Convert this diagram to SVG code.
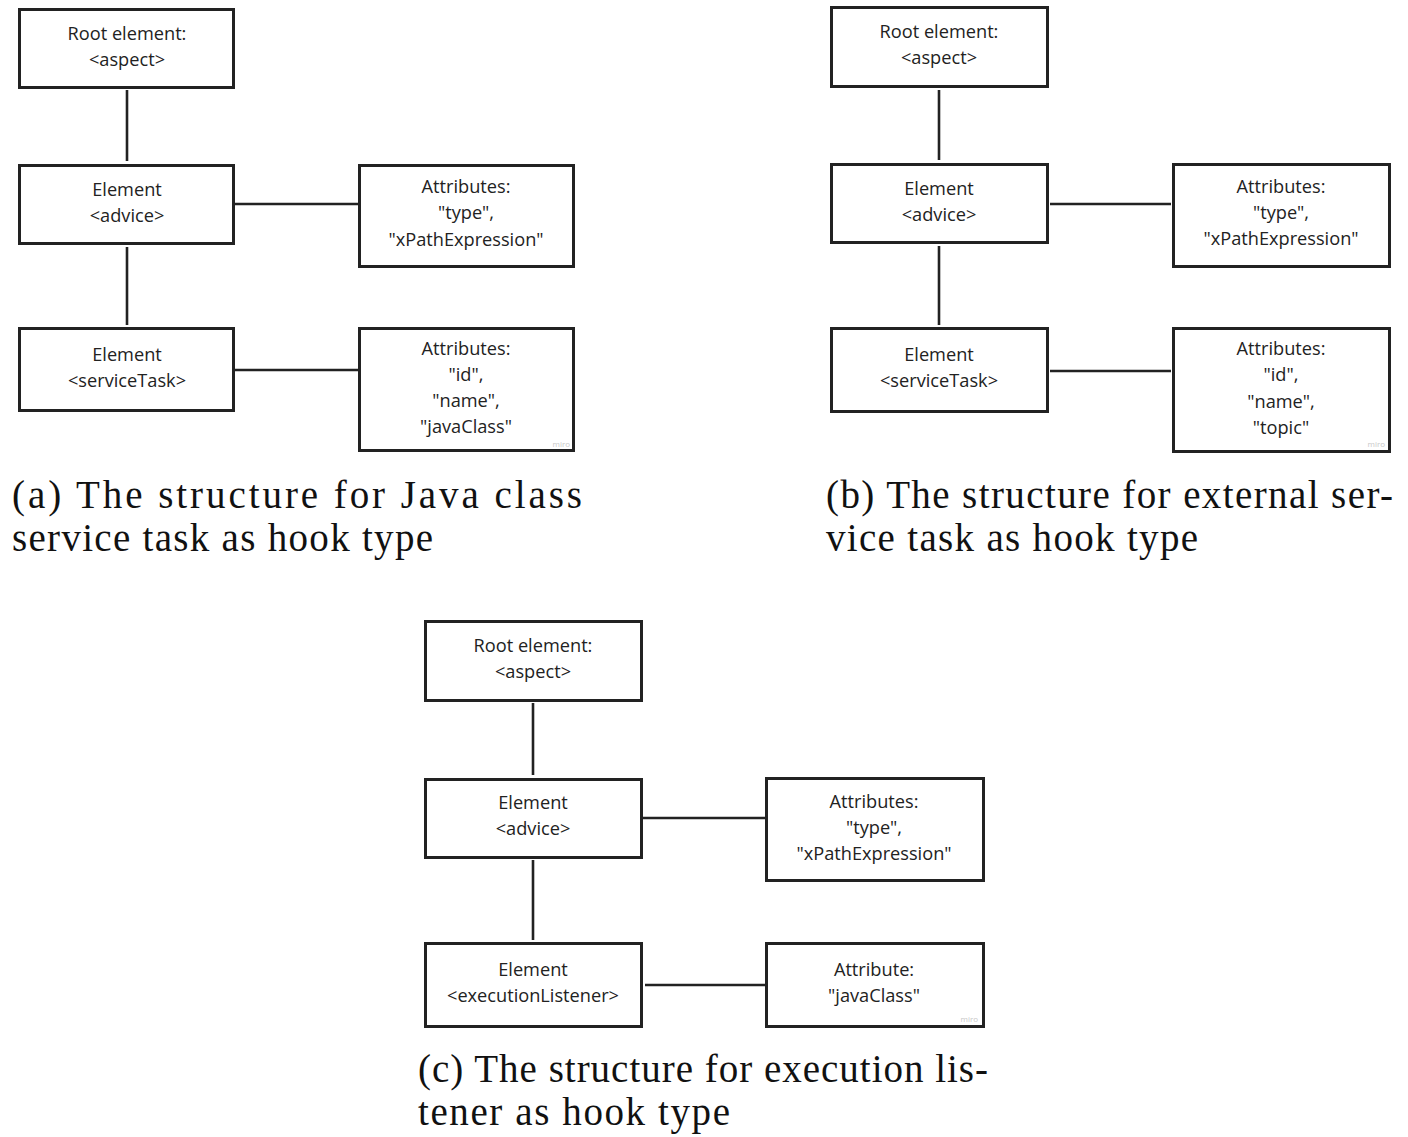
<svg xmlns="http://www.w3.org/2000/svg" width="1408" height="1137" viewBox="0 0 1408 1137">
<style>
.box{fill:#fff;stroke:#222;stroke-width:3}
.lbl{font-family:"Open Sans","Noto Sans",sans-serif;font-size:18.2px;fill:#222;text-anchor:middle}
.con line{stroke:#222;stroke-width:2.6}
.cap{font-family:"Liberation Serif","DejaVu Serif",serif;font-size:39px;fill:#111}
.miro{font-family:"Open Sans",sans-serif;font-size:8px;fill:#c8c8c8;text-anchor:end}
</style>
<rect width="1408" height="1137" fill="#fff"/>
<g class="con">
<line x1="127" y1="90" x2="127" y2="161"/>
<line x1="127" y1="247" x2="127" y2="325"/>
<line x1="235" y1="204" x2="358" y2="204"/>
<line x1="235" y1="370" x2="358" y2="370"/>
<line x1="939" y1="90" x2="939" y2="160"/>
<line x1="939" y1="246" x2="939" y2="325"/>
<line x1="1050" y1="204" x2="1171" y2="204"/>
<line x1="1050" y1="371" x2="1171" y2="371"/>
<line x1="533" y1="703" x2="533" y2="775"/>
<line x1="533" y1="860" x2="533" y2="940"/>
<line x1="643" y1="818" x2="765" y2="818"/>
<line x1="645" y1="985" x2="765" y2="985"/>
</g>
<g id="a-root"><rect class="box" x="19.5" y="9.5" width="214" height="78"/><text class="lbl" x="127" y="40">Root element:</text><text class="lbl" x="127" y="66">&lt;aspect&gt;</text></g>
<g id="a-advice"><rect class="box" x="19.5" y="165.5" width="214" height="78"/><text class="lbl" x="127" y="196">Element</text><text class="lbl" x="127" y="222">&lt;advice&gt;</text></g>
<g id="a-service"><rect class="box" x="19.5" y="328.5" width="214" height="82"/><text class="lbl" x="127" y="361">Element</text><text class="lbl" x="127" y="387">&lt;serviceTask&gt;</text></g>
<g id="a-attr1"><rect class="box" x="359.5" y="165.5" width="214" height="101"/><text class="lbl" x="466" y="193">Attributes:</text><text class="lbl" x="466" y="219">"type",</text><text class="lbl" x="466" y="246">"xPathExpression"</text></g>
<g id="a-attr2"><rect class="box" x="359.5" y="328.5" width="214" height="122"/><text class="lbl" x="466" y="355">Attributes:</text><text class="lbl" x="466" y="381">"id",</text><text class="lbl" x="466" y="407">"name",</text><text class="lbl" x="466" y="433">"javaClass"</text><text class="miro" x="570" y="447">miro</text></g>
<g id="b-root"><rect class="box" x="831.5" y="7.5" width="216" height="79"/><text class="lbl" x="939" y="38">Root element:</text><text class="lbl" x="939" y="64">&lt;aspect&gt;</text></g>
<g id="b-advice"><rect class="box" x="831.5" y="164.5" width="216" height="78"/><text class="lbl" x="939" y="195">Element</text><text class="lbl" x="939" y="221">&lt;advice&gt;</text></g>
<g id="b-service"><rect class="box" x="831.5" y="328.5" width="216" height="83"/><text class="lbl" x="939" y="361">Element</text><text class="lbl" x="939" y="387">&lt;serviceTask&gt;</text></g>
<g id="b-attr1"><rect class="box" x="1173.5" y="164.5" width="216" height="102"/><text class="lbl" x="1281" y="193">Attributes:</text><text class="lbl" x="1281" y="219">"type",</text><text class="lbl" x="1281" y="245">"xPathExpression"</text></g>
<g id="b-attr2"><rect class="box" x="1173.5" y="328.5" width="216" height="123"/><text class="lbl" x="1281" y="355">Attributes:</text><text class="lbl" x="1281" y="381">"id",</text><text class="lbl" x="1281" y="408">"name",</text><text class="lbl" x="1281" y="434">"topic"</text><text class="miro" x="1385" y="447">miro</text></g>
<g id="c-root"><rect class="box" x="425.5" y="621.5" width="216" height="79"/><text class="lbl" x="533" y="652">Root element:</text><text class="lbl" x="533" y="678">&lt;aspect&gt;</text></g>
<g id="c-advice"><rect class="box" x="425.5" y="779.5" width="216" height="78"/><text class="lbl" x="533" y="809">Element</text><text class="lbl" x="533" y="835">&lt;advice&gt;</text></g>
<g id="c-listener"><rect class="box" x="425.5" y="943.5" width="216" height="83"/><text class="lbl" x="533" y="976">Element</text><text class="lbl" x="533" y="1002">&lt;executionListener&gt;</text></g>
<g id="c-attr1"><rect class="box" x="766.5" y="778.5" width="217" height="102"/><text class="lbl" x="874" y="808">Attributes:</text><text class="lbl" x="874" y="834">"type",</text><text class="lbl" x="874" y="860">"xPathExpression"</text></g>
<g id="c-attr2"><rect class="box" x="766.5" y="943.5" width="217" height="83"/><text class="lbl" x="874" y="976">Attribute:</text><text class="lbl" x="874" y="1002">"javaClass"</text><text class="miro" x="978" y="1022">miro</text></g>
<g id="captions">
<text class="cap" x="12" y="508" textLength="570" lengthAdjust="spacing">(a) The structure for Java class</text>
<text class="cap" x="12" y="551" textLength="421" lengthAdjust="spacing">service task as hook type</text>
<text class="cap" x="826" y="508" textLength="567" lengthAdjust="spacing">(b) The structure for external ser-</text>
<text class="cap" x="826" y="551" textLength="372" lengthAdjust="spacing">vice task as hook type</text>
<text class="cap" x="418" y="1082" textLength="570" lengthAdjust="spacing">(c) The structure for execution lis-</text>
<text class="cap" x="418" y="1125" textLength="312" lengthAdjust="spacing">tener as hook type</text>
</g>
</svg>
